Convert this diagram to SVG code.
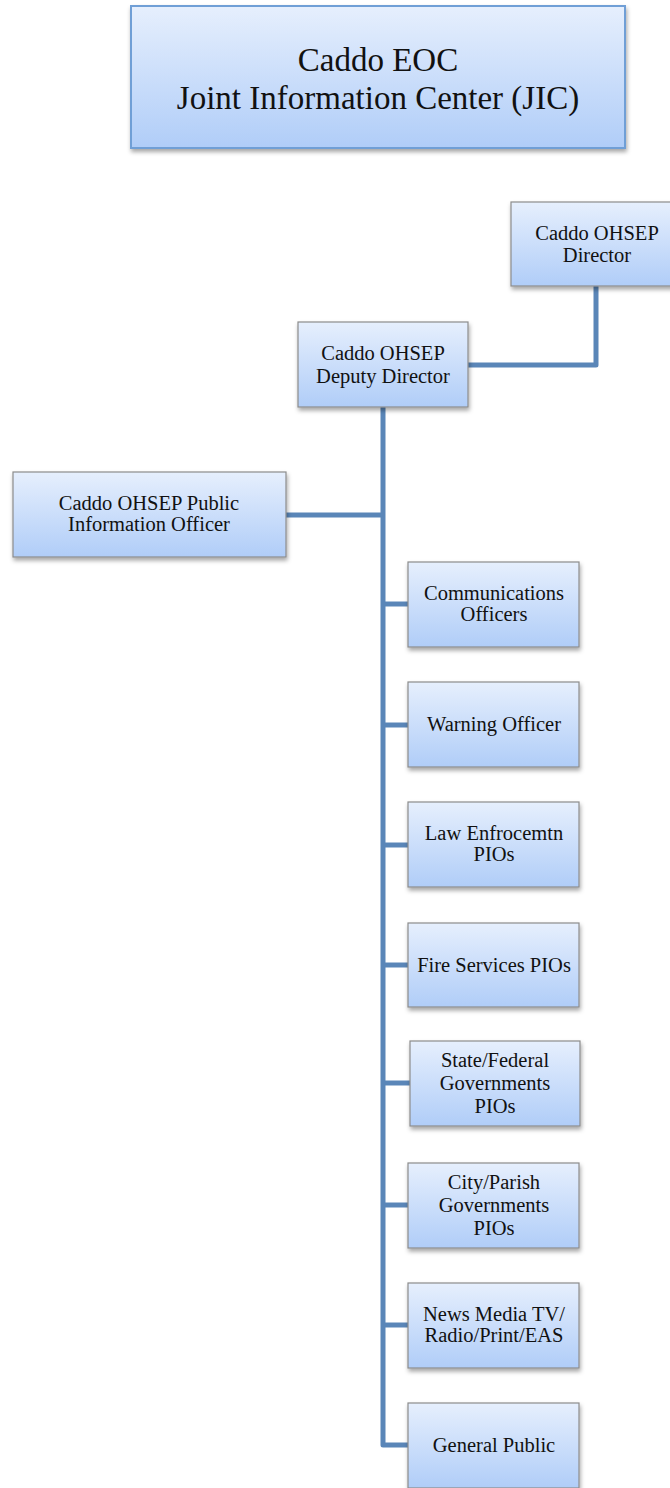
<svg xmlns="http://www.w3.org/2000/svg" width="670" height="1488" viewBox="0 0 670 1488">
<defs>
<linearGradient id="g" x1="0" y1="0" x2="0" y2="1">
<stop offset="0" stop-color="#e6effd"/>
<stop offset="1" stop-color="#b0cdf8"/>
</linearGradient>
<filter id="sh" x="-10%" y="-10%" width="130%" height="140%">
<feDropShadow dx="1" dy="3" stdDeviation="2" flood-color="#000" flood-opacity="0.35"/>
</filter>
</defs>
<style>
.box{fill:url(#g);stroke:#8c8c8c;stroke-width:1.2;filter:url(#sh)}
.title{fill:url(#g);stroke:#6f9fd6;stroke-width:2;filter:url(#sh)}
text{font-family:"Liberation Serif","DejaVu Serif",serif;fill:#111;text-anchor:middle}
.t{font-size:20.5px}
.big{font-size:33px}
.conn{fill:none;stroke:#5a86b8;stroke-width:5;stroke-linejoin:round}
</style>
<rect width="670" height="1488" fill="#fff"/>
<g id="connectors">
<polyline class="conn" points="468,365 596,365 596,286"/>
<polyline class="conn" points="383,407 383,1445 408,1445"/>
<line class="conn" x1="286" y1="515" x2="383" y2="515"/>
<line class="conn" x1="383" y1="604" x2="408" y2="604"/>
<line class="conn" x1="383" y1="725" x2="408" y2="725"/>
<line class="conn" x1="383" y1="845" x2="408" y2="845"/>
<line class="conn" x1="383" y1="965" x2="408" y2="965"/>
<line class="conn" x1="383" y1="1083" x2="410" y2="1083"/>
<line class="conn" x1="383" y1="1205" x2="408" y2="1205"/>
<line class="conn" x1="383" y1="1325" x2="408" y2="1325"/>
</g>
<g id="jic">
<rect class="title" x="131" y="6" width="494" height="142"/>
<text class="big" x="378" y="71">Caddo EOC</text>
<text class="big" x="378" y="109">Joint Information Center (JIC)</text>
</g>
<g id="director">
<rect class="box" x="511" y="202" width="165" height="84"/>
<text class="t" x="597" y="240">Caddo OHSEP</text>
<text class="t" x="597" y="262">Director</text>
</g>
<g id="deputy">
<rect class="box" x="298" y="322" width="170" height="85"/>
<text class="t" x="383" y="360">Caddo OHSEP</text>
<text class="t" x="383" y="383">Deputy Director</text>
</g>
<g id="pio">
<rect class="box" x="13" y="472" width="273" height="85"/>
<text class="t" x="149" y="510">Caddo OHSEP Public</text>
<text class="t" x="149" y="531">Information Officer</text>
</g>
<g id="comms">
<rect class="box" x="408" y="562" width="171" height="85"/>
<text class="t" x="494" y="600">Communications</text>
<text class="t" x="494" y="621">Officers</text>
</g>
<g id="warning">
<rect class="box" x="408" y="682" width="171" height="85"/>
<text class="t" x="494" y="731">Warning Officer</text>
</g>
<g id="law">
<rect class="box" x="408" y="802" width="171" height="85"/>
<text class="t" x="494" y="840">Law Enfrocemtn</text>
<text class="t" x="494" y="861">PIOs</text>
</g>
<g id="fire">
<rect class="box" x="408" y="923" width="171" height="84"/>
<text class="t" x="494" y="972">Fire Services PIOs</text>
</g>
<g id="state">
<rect class="box" x="410" y="1041" width="170" height="85"/>
<text class="t" x="495" y="1067">State/Federal</text>
<text class="t" x="495" y="1090">Governments</text>
<text class="t" x="495" y="1113">PIOs</text>
</g>
<g id="city">
<rect class="box" x="408" y="1163" width="171" height="85"/>
<text class="t" x="494" y="1189">City/Parish</text>
<text class="t" x="494" y="1212">Governments</text>
<text class="t" x="494" y="1235">PIOs</text>
</g>
<g id="news">
<rect class="box" x="408" y="1283" width="171" height="85"/>
<text class="t" x="494" y="1321">News Media TV/</text>
<text class="t" x="494" y="1342">Radio/Print/EAS</text>
</g>
<g id="public">
<rect class="box" x="408" y="1403" width="171" height="85"/>
<text class="t" x="494" y="1452">General Public</text>
</g>
</svg>
